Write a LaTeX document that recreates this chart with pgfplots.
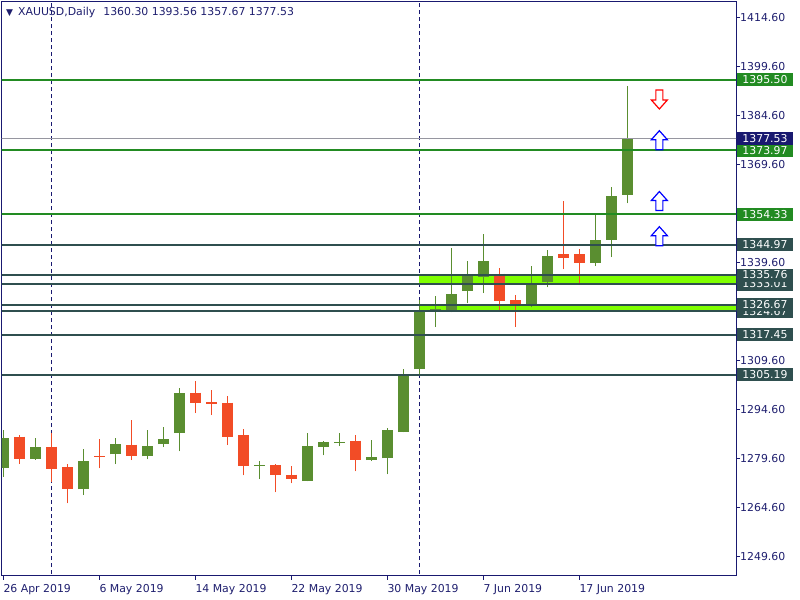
\documentclass[border=0pt]{standalone}
\usepackage{pgfplots}
\pgfplotsset{compat=1.18}
\usepackage{fontspec}
\setmainfont{DejaVu Sans}
\definecolor{framec}{RGB}{25,25,112}
\definecolor{cgreen}{RGB}{90,142,48}
\definecolor{cred}{RGB}{242,76,38}
\definecolor{lgreen}{RGB}{34,139,34}
\definecolor{ldark}{RGB}{47,79,79}
\definecolor{limez}{RGB}{127,255,0}
\definecolor{bidc}{RGB}{25,25,112}
\definecolor{txt}{RGB}{30,30,110}
\definecolor{bidline}{RGB}{150,150,160}

\pgfdeclareplotmark{uparr}{%
  \pgfpathmoveto{\pgfqpoint{0bp}{9.5bp}}%
  \pgfpathlineto{\pgfqpoint{8bp}{0.5bp}}%
  \pgfpathlineto{\pgfqpoint{3.5bp}{0.5bp}}%
  \pgfpathlineto{\pgfqpoint{3.5bp}{-9.5bp}}%
  \pgfpathlineto{\pgfqpoint{-3.5bp}{-9.5bp}}%
  \pgfpathlineto{\pgfqpoint{-3.5bp}{0.5bp}}%
  \pgfpathlineto{\pgfqpoint{-8bp}{0.5bp}}%
  \pgfpathclose\pgfusepathqfillstroke}
\pgfdeclareplotmark{dnarr}{%
  \pgfpathmoveto{\pgfqpoint{0bp}{-9.5bp}}%
  \pgfpathlineto{\pgfqpoint{8bp}{-0.5bp}}%
  \pgfpathlineto{\pgfqpoint{3.5bp}{-0.5bp}}%
  \pgfpathlineto{\pgfqpoint{3.5bp}{9.5bp}}%
  \pgfpathlineto{\pgfqpoint{-3.5bp}{9.5bp}}%
  \pgfpathlineto{\pgfqpoint{-3.5bp}{-0.5bp}}%
  \pgfpathlineto{\pgfqpoint{-8bp}{-0.5bp}}%
  \pgfpathclose\pgfusepathqfillstroke}

% color, x, O, H, L, C
\newcommand{\candle}[6]{%
  \addplot[#1, line width=1bp] coordinates {(#2,#5) (#2,#4)};
  \addplot[#1, line width=11bp] coordinates {(#2,#3) (#2,#6)};
}
\newcommand{\lvl}[2]{\addplot[#1, line width=1.8bp] coordinates {(-1,#2) (47,#2)};}

\newcommand{\fnt}{\fontsize{10.9bp}{13bp}\selectfont}

\begin{document}
\begin{tikzpicture}
\begin{axis}[
  at={(1.7bp,-1.7bp)}, anchor=north west,
  scale only axis, width=734.3bp, height=574bp,
  xmin=-0.1, xmax=45.79, ymin=1243.78, ymax=1419.37,
  axis line style={draw=framec, line width=1bp},
  xtick pos=left, ytick pos=right,
  tick align=outside, major tick length=4bp,
  tick style={draw=framec, line width=1bp},
  minor tick num=0,
  xtick={0,6,12,18,24,30,36},
  xticklabels={26 Apr 2019, 6 May 2019, 14 May 2019, 22 May 2019, 30 May 2019, 7 Jun 2019, 17 Jun 2019},
  ytick={1249.6,1264.6,1279.6,1294.6,1309.6,1339.6,1369.6,1384.6,1399.6,1414.6},
  yticklabels={1249.60,1264.60,1279.60,1294.60,1309.60,1339.60,1369.60,1384.60,1399.60,1414.60},
  xticklabel style={anchor=north west, inner sep=0pt, yshift=-4.5bp, text=txt, font=\fnt},
  yticklabel style={anchor=west, inner sep=0pt, text=txt, font=\fnt},
  clip=true,
]
% month separators
\addplot[framec, line width=1bp, dash pattern=on 4bp off 3bp] coordinates {(3,1240) (3,1425)};
\addplot[framec, line width=1bp, dash pattern=on 4bp off 3bp] coordinates {(26,1240) (26,1425)};
% zones
\addplot[fill=limez, draw=none] coordinates {(26,1333.01) (47,1333.01) (47,1335.76) (26,1335.76)};
\addplot[fill=limez, draw=none] coordinates {(26,1324.67) (47,1324.67) (47,1326.67) (26,1326.67)};
% candles
\candle{cgreen}{0}{1276.6}{1288.5}{1274.0}{1286.0}
\candle{cred}{1}{1286.3}{1286.7}{1277.9}{1279.4}
\candle{cgreen}{2}{1279.6}{1286.0}{1279.3}{1283.3}
\candle{cred}{3}{1283.3}{1287.3}{1272.4}{1276.3}
\candle{cred}{4}{1276.9}{1277.8}{1265.9}{1270.2}
\candle{cgreen}{5}{1270.2}{1282.4}{1268.4}{1279.0}
\candle{cred}{6}{1280.25}{1285.7}{1276.6}{1279.95}
\candle{cgreen}{7}{1280.9}{1286.0}{1277.9}{1284.2}
\candle{cred}{8}{1283.9}{1291.5}{1279.1}{1280.3}
\candle{cgreen}{9}{1280.3}{1288.2}{1279.4}{1283.6}
\candle{cgreen}{10}{1284.0}{1289.4}{1283.1}{1285.7}
\candle{cgreen}{11}{1287.4}{1301.3}{1281.8}{1299.8}
\candle{cred}{12}{1299.8}{1303.2}{1293.5}{1296.5}
\candle{cred}{13}{1296.8}{1300.7}{1292.9}{1296.2}
\candle{cred}{14}{1296.7}{1298.6}{1283.7}{1286.1}
\candle{cred}{15}{1286.7}{1288.8}{1274.5}{1277.3}
\candle{cgreen}{16}{1277.3}{1279.0}{1273.3}{1277.6}
\candle{cred}{17}{1277.5}{1277.8}{1269.3}{1274.5}
\candle{cred}{18}{1274.7}{1277.2}{1272.0}{1273.3}
\candle{cgreen}{19}{1272.7}{1287.3}{1272.6}{1283.6}
\candle{cgreen}{20}{1283.1}{1285.1}{1280.6}{1284.8}
\candle{cgreen}{21}{1284.3}{1287.3}{1283.4}{1284.8}
\candle{cred}{22}{1285.1}{1286.7}{1275.7}{1279.1}
\candle{cgreen}{23}{1279.1}{1285.4}{1278.8}{1280.2}
\candle{cgreen}{24}{1279.7}{1289.1}{1274.8}{1288.5}
\candle{cgreen}{25}{1287.7}{1306.9}{1287.6}{1305.3}
\candle{cgreen}{26}{1306.9}{1328.0}{1305.3}{1324.6}
\candle{cgreen}{27}{1324.8}{1329.2}{1319.8}{1325.5}
\candle{cgreen}{28}{1324.9}{1343.9}{1324.3}{1330.1}
\candle{cgreen}{29}{1330.8}{1339.9}{1327.1}{1335.6}
\candle{cgreen}{30}{1335.1}{1348.2}{1330.2}{1340.2}
\candle{cred}{31}{1336.2}{1337.8}{1324.9}{1327.8}
\candle{cred}{32}{1328.0}{1329.8}{1319.8}{1326.5}
\candle{cgreen}{33}{1326.4}{1338.4}{1325.9}{1333.2}
\candle{cgreen}{34}{1333.6}{1343.3}{1332.0}{1341.7}
\candle{cred}{35}{1342.1}{1358.3}{1337.5}{1340.9}
\candle{cred}{36}{1342.1}{1343.6}{1332.7}{1339.4}
\candle{cgreen}{37}{1339.4}{1354.5}{1338.5}{1346.6}
\candle{cgreen}{38}{1346.6}{1362.6}{1341.2}{1359.8}
\candle{cgreen}{39}{1360.30}{1393.56}{1357.67}{1377.53}
% levels
\addplot[bidline, line width=1bp] coordinates {(-1,1377.53) (47,1377.53)};
\lvl{lgreen}{1395.50}
\lvl{lgreen}{1373.97}
\lvl{lgreen}{1354.33}
\lvl{ldark}{1344.97}
\lvl{ldark}{1335.76}
\lvl{ldark}{1333.01}
\lvl{ldark}{1326.67}
\lvl{ldark}{1324.67}
\lvl{ldark}{1317.45}
\lvl{ldark}{1305.19}
% arrows
\addplot[only marks, mark=dnarr, mark options={draw=red, fill=white, line width=1.2bp}] coordinates {(41,1389.46)};
\addplot[only marks, mark=uparr, mark options={draw=blue, fill=white, line width=1.2bp}] coordinates {(41,1377.0) (41,1358.4) (41,1347.64)};
% anchors for price labels
\coordinate (P1) at (axis cs:45.79,1305.19);
\coordinate (P2) at (axis cs:45.79,1317.45);
\coordinate (P3) at (axis cs:45.79,1324.67);
\coordinate (P4) at (axis cs:45.79,1326.67);
\coordinate (P5) at (axis cs:45.79,1333.01);
\coordinate (P6) at (axis cs:45.79,1335.76);
\coordinate (P7) at (axis cs:45.79,1344.97);
\coordinate (P8) at (axis cs:45.79,1354.33);
\coordinate (P9) at (axis cs:45.79,1373.97);
\coordinate (P10) at (axis cs:45.79,1395.50);
\coordinate (P11) at (axis cs:45.79,1377.53);
\end{axis}
\tikzset{plab/.style={anchor=west, xshift=0.8bp, minimum width=56bp, minimum height=13bp, inner sep=0pt, text=white, font=\fnt}}
\node[plab, fill=ldark] at (P1) {1305.19};
\node[plab, fill=ldark] at (P2) {1317.45};
\node[plab, fill=ldark] at (P3) {1324.67};
\node[plab, fill=ldark] at (P4) {1326.67};
\node[plab, fill=ldark] at (P5) {1333.01};
\node[plab, fill=ldark] at (P6) {1335.76};
\node[plab, fill=ldark] at (P7) {1344.97};
\node[plab, fill=lgreen] at (P8) {1354.33};
\node[plab, fill=lgreen] at (P9) {1373.97};
\node[plab, fill=lgreen] at (P10) {1395.50};
\node[plab, fill=bidc] at (P11) {1377.53};
\node[anchor=west, inner sep=0pt, text=txt, font=\fnt] at (6bp,-12bp) {{\fontsize{9bp}{10bp}\selectfont ▼}\hspace{5bp}XAUUSD,Daily\hspace{8bp}1360.30 1393.56 1357.67 1377.53};
\pgfresetboundingbox
\path[use as bounding box] (0,0) rectangle (800bp,-600bp);
\end{tikzpicture}
\end{document}
